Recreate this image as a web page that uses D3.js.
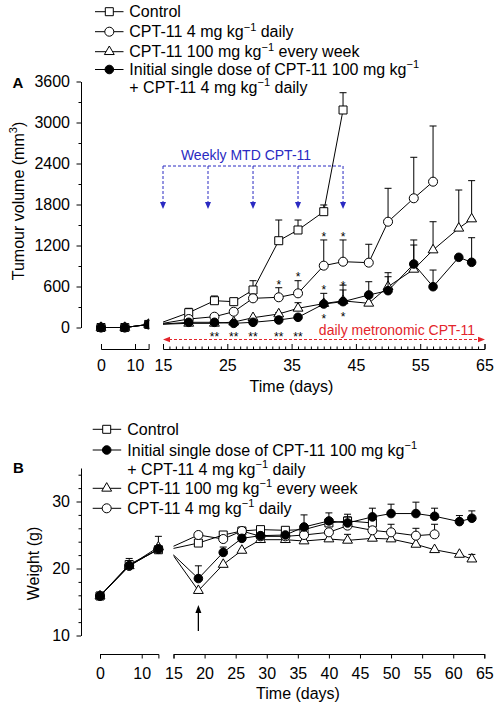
<!DOCTYPE html>
<html><head><meta charset="utf-8">
<script src="https://cdn.jsdelivr.net/npm/d3@7"></script>
<style>body{margin:0;background:#fff;} svg{display:block;}</style>
</head><body><svg id="c" width="494" height="704"></svg>
<script>
// ---------------- Panel A: tumour volume (mm3) ----------------
const tumourDays      = [0, 7, 14, 19, 23, 26, 29, 33, 36, 40, 43, 47, 50, 54, 57, 61, 63];
const tumourControl   = [0, 0, 45, 217, 392, 378, 549, 1270, 1427, 1695, 3183];
const tumourControlErr= [null, null, null, 281, 461, 427, 685, 1573, 1573, 1793, 3436];
const tumourDaily     = [0, 0, 45, 124, 158, 231, 427, 442, 500, 905, 963, 949, 1548, 1891, 2134];
const tumourDailyErr  = [null, null, null, null, null, null, null, 582, 685, 1281, 1281, 1218, 2037, 2491, 2949];
const tumourWeekly    = [0, 0, 45, 61, 61, 80, 143, 198, 281, 350, 390, 354, 597, 851, 1134, 1452, 1588];
const tumourWeeklyErr = [null, null, null, null, null, null, null, 217, 363, null, 620, null, 743, 1207, 1548, 2012, 2149];
const tumourCombo     = [0, 0, 45, 76, 76, 61, 76, 110, 149, 344, 378, 476, 539, 929, 597, 1027, 954];
const tumourComboErr  = [null, null, null, null, null, null, null, null, null, 500, 549, 670, 802, 1281, 841, null, 1314];
const starDailyDays      = [33, 36, 40, 43];
const starComboAboveDays = [40, 43];
const starComboBelowDays = [40, 43];
const doubleStarDays     = [23, 26, 29, 33, 36];
const weeklyMtdDays      = [15, 22, 29, 36, 43];
const metronomicRange    = [15, 65];
const yTicksA  = [0, 600, 1200, 1800, 2400, 3000, 3600];
const yMinorA  = [300, 900, 1500, 2100, 2700, 3300];
const xTicksLeft = [0, 10];
const xTicksARight = [15, 25, 35, 45, 55, 65];

// ---------------- Panel B: weight (g) ----------------
const weightDays       = [0, 7, 14, 19, 23, 26, 29, 33, 36, 40, 43, 47, 50, 54, 57, 61, 63];
const weightControl    = [15.9, 20.6, 22.8, 23.8, 25.0, 25.6, 25.8, 25.7, 25.8, 26.8, 27.1, 26.8];
const weightControlErr = [null, 21.5, null, null, null, null, null, null, null, null, 28.1, 27.3];
const weightCombo      = [15.9, 20.4, 22.9, 18.5, 22.4, 24.5, 24.9, 25.0, 26.2, 27.1, 26.8, 27.7, 28.2, 28.2, 27.8, 27.0, 27.5];
const weightComboErr   = [null, null, null, 20.4, 23.2, null, null, null, 28.0, 28.3, 27.7, 29.0, 29.6, 29.9, 29.0, 27.9, 28.6];
const weightWeekly     = [15.9, 20.4, 23.2, 16.7, 20.6, 22.7, 24.3, 24.3, 24.1, 24.4, 24.2, 24.5, 24.4, 23.6, 22.8, 22.1, 21.4];
const weightWeeklyErr  = [null, null, 24.8, null, null, null, null, null, null, null, 25.1, null, null, null, null, null, 22.1];
const weightDaily      = [15.9, 20.4, 22.9, 25.0, 24.4, 25.6, 24.8, 24.8, 25.0, 25.4, 26.4, 25.7, 25.4, 24.9, 25.1];
const weightDailyErr   = [null, null, null, null, null, null, null, null, null, null, 27.2, null, 26.6, 26.0, 26.6];
const yTicksB = [10, 20, 30];
const yMinorB = [12, 14, 16, 18, 22, 24, 26, 28, 32, 34];
const xTicksBRight = [15, 20, 25, 30, 35, 40, 45, 50, 55, 60, 65];
const arrowDayB = 19;

// ---------------- labels ----------------
const labControl = "Control";
const labDaily   = "CPT-11 4 mg kg^−1^ daily";
const labWeekly  = "CPT-11 100 mg kg^−1^ every week";
const labCombo1  = "Initial single dose of CPT-11 100 mg kg^−1^";
const labCombo2  = "+ CPT-11 4 mg kg^−1^ daily";

const FONT = "'Liberation Sans', Arial, Helvetica, sans-serif";
const svg = d3.select("#c");
svg.append("rect").attr("width",494).attr("height",704).attr("fill","#fff");

const SYM = {
  square:   {type: d3.symbolSquare,   size: 64, fill: "#fff"},
  circle:   {type: d3.symbolCircle,   size: 64, fill: "#fff"},
  triangle: {type: d3.symbolTriangle, size: 42, fill: "#fff"},
  filled:   {type: d3.symbolCircle,   size: 58, fill: "#000"}
};

// scales
const yA  = d3.scaleLinear().domain([0, 3600]).range([327.5, 81.5]);
const xAL = d3.scaleLinear().domain([0, 14]).range([101, 148.6]);
const xAR = d3.scaleLinear().domain([15, 65]).range([163, 484.5]);
const yB  = d3.scaleLinear().domain([10, 35]).range([635.5, 468]);
const xBL = d3.scaleLinear().domain([0, 14]).range([100, 158.4]);
const xBR = d3.scaleLinear().domain([15, 65]).range([173.5, 484.3]);

// clip paths
const defs = svg.append("defs");
function clip(id, x0, x1){ defs.append("clipPath").attr("id", id).append("rect").attr("x", x0).attr("y", 0).attr("width", x1 - x0).attr("height", 704); }
clip("cAL", 90, 149.2); clip("cAR", 163, 494); clip("cBL", 90, 164); clip("cBR", 173.5, 494);

function rich(sel, str, size, supSize){
  const parts = str.split("^");
  let prevSup = false;
  parts.forEach((p, i) => {
    const sup = i % 2 === 1;
    if (!p) return;
    const ts = sel.append("tspan").text(p).attr("font-size", sup ? supSize : size);
    if (sup) { ts.attr("dy", -0.42 * size); prevSup = true; }
    else if (prevSup) { ts.attr("dy", 0.42 * size); prevSup = false; }
  });
}

function drawSeries(x, y, days, vals, errs, sym, dMin, dMax, clipId){
  const pts = vals.map((v, i) => ({d: days[i], v: v, e: errs ? errs[i] : null}))
                  .filter(p => p.d >= dMin && p.d <= dMax);
  const g = svg.append("g").attr("clip-path", `url(#${clipId})`);
  g.append("path").datum(pts)
    .attr("d", d3.line().x(p => x(p.d)).y(p => y(p.v)))
    .attr("fill", "none").attr("stroke", "#000").attr("stroke-width", 1);
  const eb = pts.filter(p => p.e != null);
  g.selectAll(null).data(eb).join("line")
    .attr("x1", p => x(p.d)).attr("x2", p => x(p.d))
    .attr("y1", p => y(p.v)).attr("y2", p => y(p.e))
    .attr("stroke", "#000").attr("stroke-width", 1);
  g.selectAll(null).data(eb).join("line")
    .attr("x1", p => x(p.d) - 3.5).attr("x2", p => x(p.d) + 3.5)
    .attr("y1", p => y(p.e)).attr("y2", p => y(p.e))
    .attr("stroke", "#000").attr("stroke-width", 1);
  g.selectAll(null).data(pts).join("path")
    .attr("transform", p => `translate(${x(p.d)},${y(p.v)})`)
    .attr("d", d3.symbol(sym.type, sym.size))
    .attr("fill", sym.fill).attr("stroke", "#000").attr("stroke-width", 1);
}

function styleAxis(g){
  g.attr("font-family", FONT).attr("font-size", 16);
  g.selectAll("text").attr("fill", "#000");
  g.selectAll("line,path").attr("stroke", "#000");
}

// ---------------- Panel A axes ----------------
styleAxis(svg.append("g").attr("transform", "translate(81,0)")
  .call(d3.axisLeft(yA).tickValues(yTicksA).tickSize(4.5).tickPadding(6.5).tickSizeOuter(0).tickFormat(d3.format("d"))));
{ const g = svg.append("g").attr("transform", "translate(81,0)")
  .call(d3.axisLeft(yA).tickValues(yMinorA).tickSize(2.5).tickSizeOuter(0).tickFormat(""));
  g.select(".domain").remove(); styleAxis(g); }

styleAxis(svg.append("g").attr("transform", "translate(0,349)")
  .call(d3.axisBottom(xAL).tickValues(xTicksLeft).tickSize(-5).tickSizeOuter(-5).tickPadding(11)));
styleAxis(svg.append("g").attr("transform", "translate(0,349)")
  .call(d3.axisBottom(xAR).tickValues(xTicksARight).tickSize(-5).tickSizeOuter(-5).tickPadding(11)));
{ const g = svg.append("g").attr("transform", "translate(0,349)")
  .call(d3.axisBottom(xAR).tickValues(d3.range(16, 65).filter(d => (d - 15) % 10 !== 0)).tickSize(-2.5).tickFormat(""));
  g.select(".domain").remove(); styleAxis(g); }

// ---------------- Panel A series ----------------
const seriesA = [
  [tumourControl, tumourControlErr, SYM.square],
  [tumourWeekly, tumourWeeklyErr, SYM.triangle],
  [tumourDaily, tumourDailyErr, SYM.circle],
  [tumourCombo, tumourComboErr, SYM.filled]
];
seriesA.forEach(([v, e, s]) => {
  drawSeries(xAL, yA, tumourDays, v, e, s, 0, 14, "cAL");
  drawSeries(xAR, yA, tumourDays, v, e, s, 14, 65, "cAR");
});

// stars
function star(x, yc, txt){
  svg.append("text").attr("x", x).attr("y", yc + 6.8).attr("text-anchor", "middle")
    .attr("font-family", FONT).attr("font-size", 12).attr("fill", "#000").text(txt);
}
function lookup(days, arr, d){ return arr[days.indexOf(d)]; }
starDailyDays.forEach(d => star(xAR(d), yA(lookup(tumourDays, tumourDailyErr, d)) - 6, "*"));
starComboAboveDays.forEach(d => star(xAR(d), yA(lookup(tumourDays, tumourComboErr, d)) - 6.5, "*"));
starComboBelowDays.forEach(d => star(xAR(d), yA(lookup(tumourDays, tumourCombo, d)) + 12.5, "*"));
doubleStarDays.forEach(d => star(xAR(d), 334, "**"));

// weekly MTD annotation (blue)
const BLUE = "#2a2ac2", RED = "#e3252b";
svg.append("line").attr("x1", xAR(weeklyMtdDays[0])).attr("x2", xAR(weeklyMtdDays[weeklyMtdDays.length - 1]))
  .attr("y1", 166).attr("y2", 166).attr("stroke", BLUE).attr("stroke-dasharray", "3,2");
weeklyMtdDays.forEach(d => {
  const x = xAR(d);
  svg.append("line").attr("x1", x).attr("x2", x).attr("y1", 166).attr("y2", 203)
    .attr("stroke", BLUE).attr("stroke-dasharray", "3,2");
  svg.append("path").attr("d", `M${x - 3},${202}L${x + 3},${202}L${x},${209}Z`).attr("fill", BLUE);
});
svg.append("text").attr("x", 246).attr("y", 160).attr("text-anchor", "middle")
  .attr("font-family", FONT).attr("font-size", 14).attr("fill", BLUE).text("Weekly MTD CPT-11");

// daily metronomic annotation (red)
{ const x0 = xAR(metronomicRange[0]), x1 = xAR(metronomicRange[1]) + 0.5, y = 339.5;
  svg.append("line").attr("x1", x0 + 6).attr("x2", x1 - 6).attr("y1", y).attr("y2", y)
    .attr("stroke", RED).attr("stroke-dasharray", "3,2");
  svg.append("path").attr("d", `M${x0},${y}L${x0 + 7},${y - 2.8}L${x0 + 7},${y + 2.8}Z`).attr("fill", RED);
  svg.append("path").attr("d", `M${x1},${y}L${x1 - 7},${y - 2.8}L${x1 - 7},${y + 2.8}Z`).attr("fill", RED);
  svg.append("text").attr("x", 475).attr("y", 335).attr("text-anchor", "end")
    .attr("font-family", FONT).attr("font-size", 14).attr("fill", RED).text("daily metronomic CPT-11");
}

// axis titles A
svg.append("text").attr("x", 12.5).attr("y", 88.3).attr("font-family", FONT).attr("font-weight", "bold")
  .attr("font-size", 15).text("A");
rich(svg.append("text").attr("transform", "translate(23.5,201) rotate(-90)").attr("text-anchor", "middle")
  .attr("font-family", FONT).attr("fill", "#000"), "Tumour volume (mm^3^)", 16, 11);
svg.append("text").attr("x", 291.5).attr("y", 391.5).attr("text-anchor", "middle")
  .attr("font-family", FONT).attr("font-size", 16).text("Time (days)");

// legend A
function legendRow(xl, xm, xt, yc, sym, label, cont, contY){
  svg.append("line").attr("x1", xl).attr("x2", xl + 28.5).attr("y1", yc).attr("y2", yc).attr("stroke", "#000");
  svg.append("path").attr("transform", `translate(${xm},${yc})`).attr("d", d3.symbol(sym.type, sym.size))
    .attr("fill", sym.fill).attr("stroke", "#000");
  rich(svg.append("text").attr("x", xt).attr("y", yc + 5.7).attr("font-family", FONT).attr("fill", "#000"), label, 16, 11);
  if (cont) rich(svg.append("text").attr("x", xt).attr("y", contY + 5.7).attr("font-family", FONT).attr("fill", "#000"), cont, 16, 11);
}
legendRow(95, 109.3, 129.3, 11.7, SYM.square, labControl);
legendRow(95, 109.3, 129.3, 31.7, SYM.circle, labDaily);
legendRow(95, 109.3, 129.3, 51.7, SYM.triangle, labWeekly);
legendRow(95, 109.3, 129.3, 69.5, SYM.filled, labCombo1, labCombo2, 87.3);

// ---------------- Panel B axes ----------------
styleAxis(svg.append("g").attr("transform", "translate(81,0)")
  .call(d3.axisLeft(yB).tickValues(yTicksB).tickSize(4.5).tickPadding(6.5).tickSizeOuter(0)));
{ const g = svg.append("g").attr("transform", "translate(81,0)")
  .call(d3.axisLeft(yB).tickValues(yMinorB).tickSize(2.5).tickSizeOuter(0).tickFormat(""));
  g.select(".domain").remove(); styleAxis(g); }
styleAxis(svg.append("g").attr("transform", "translate(0,654)")
  .call(d3.axisBottom(xBL).tickValues(xTicksLeft).tickSize(4.5).tickSizeOuter(4.5).tickPadding(9)));
styleAxis(svg.append("g").attr("transform", "translate(0,654)")
  .call(d3.axisBottom(xBR).tickValues(xTicksBRight).tickSize(4.5).tickSizeOuter(4.5).tickPadding(9)));

// ---------------- Panel B series ----------------
const seriesB = [
  [weightControl, weightControlErr, SYM.square],
  [weightWeekly, weightWeeklyErr, SYM.triangle],
  [weightDaily, weightDailyErr, SYM.circle],
  [weightCombo, weightComboErr, SYM.filled]
];
seriesB.forEach(([v, e, s]) => {
  drawSeries(xBL, yB, weightDays, v, e, s, 0, 14, "cBL");
  drawSeries(xBR, yB, weightDays, v, e, s, 14, 65, "cBR");
});

// arrow at initial dose
{ const x = xBR(arrowDayB);
  svg.append("line").attr("x1", x).attr("x2", x).attr("y1", 631).attr("y2", 612).attr("stroke", "#000").attr("stroke-width", 1.3);
  svg.append("path").attr("d", `M${x - 3},${613}L${x + 3},${613}L${x},${605}Z`).attr("fill", "#000"); }

svg.append("text").attr("x", 13).attr("y", 473.3).attr("font-family", FONT).attr("font-weight", "bold")
  .attr("font-size", 15).text("B");
svg.append("text").attr("transform", "translate(39,563.5) rotate(-90)").attr("text-anchor", "middle")
  .attr("font-family", FONT).attr("font-size", 16).text("Weight (g)");
svg.append("text").attr("x", 298).attr("y", 699).attr("text-anchor", "middle")
  .attr("font-family", FONT).attr("font-size", 16).text("Time (days)");

legendRow(92.7, 106.7, 127.3, 429.3, SYM.square, labControl);
legendRow(92.7, 106.7, 127.3, 450, SYM.filled, labCombo1, labCombo2, 469.3);
legendRow(92.7, 106.7, 127.3, 488.3, SYM.triangle, labWeekly);
legendRow(92.7, 106.7, 127.3, 508.3, SYM.circle, labDaily);
</script></body></html>
